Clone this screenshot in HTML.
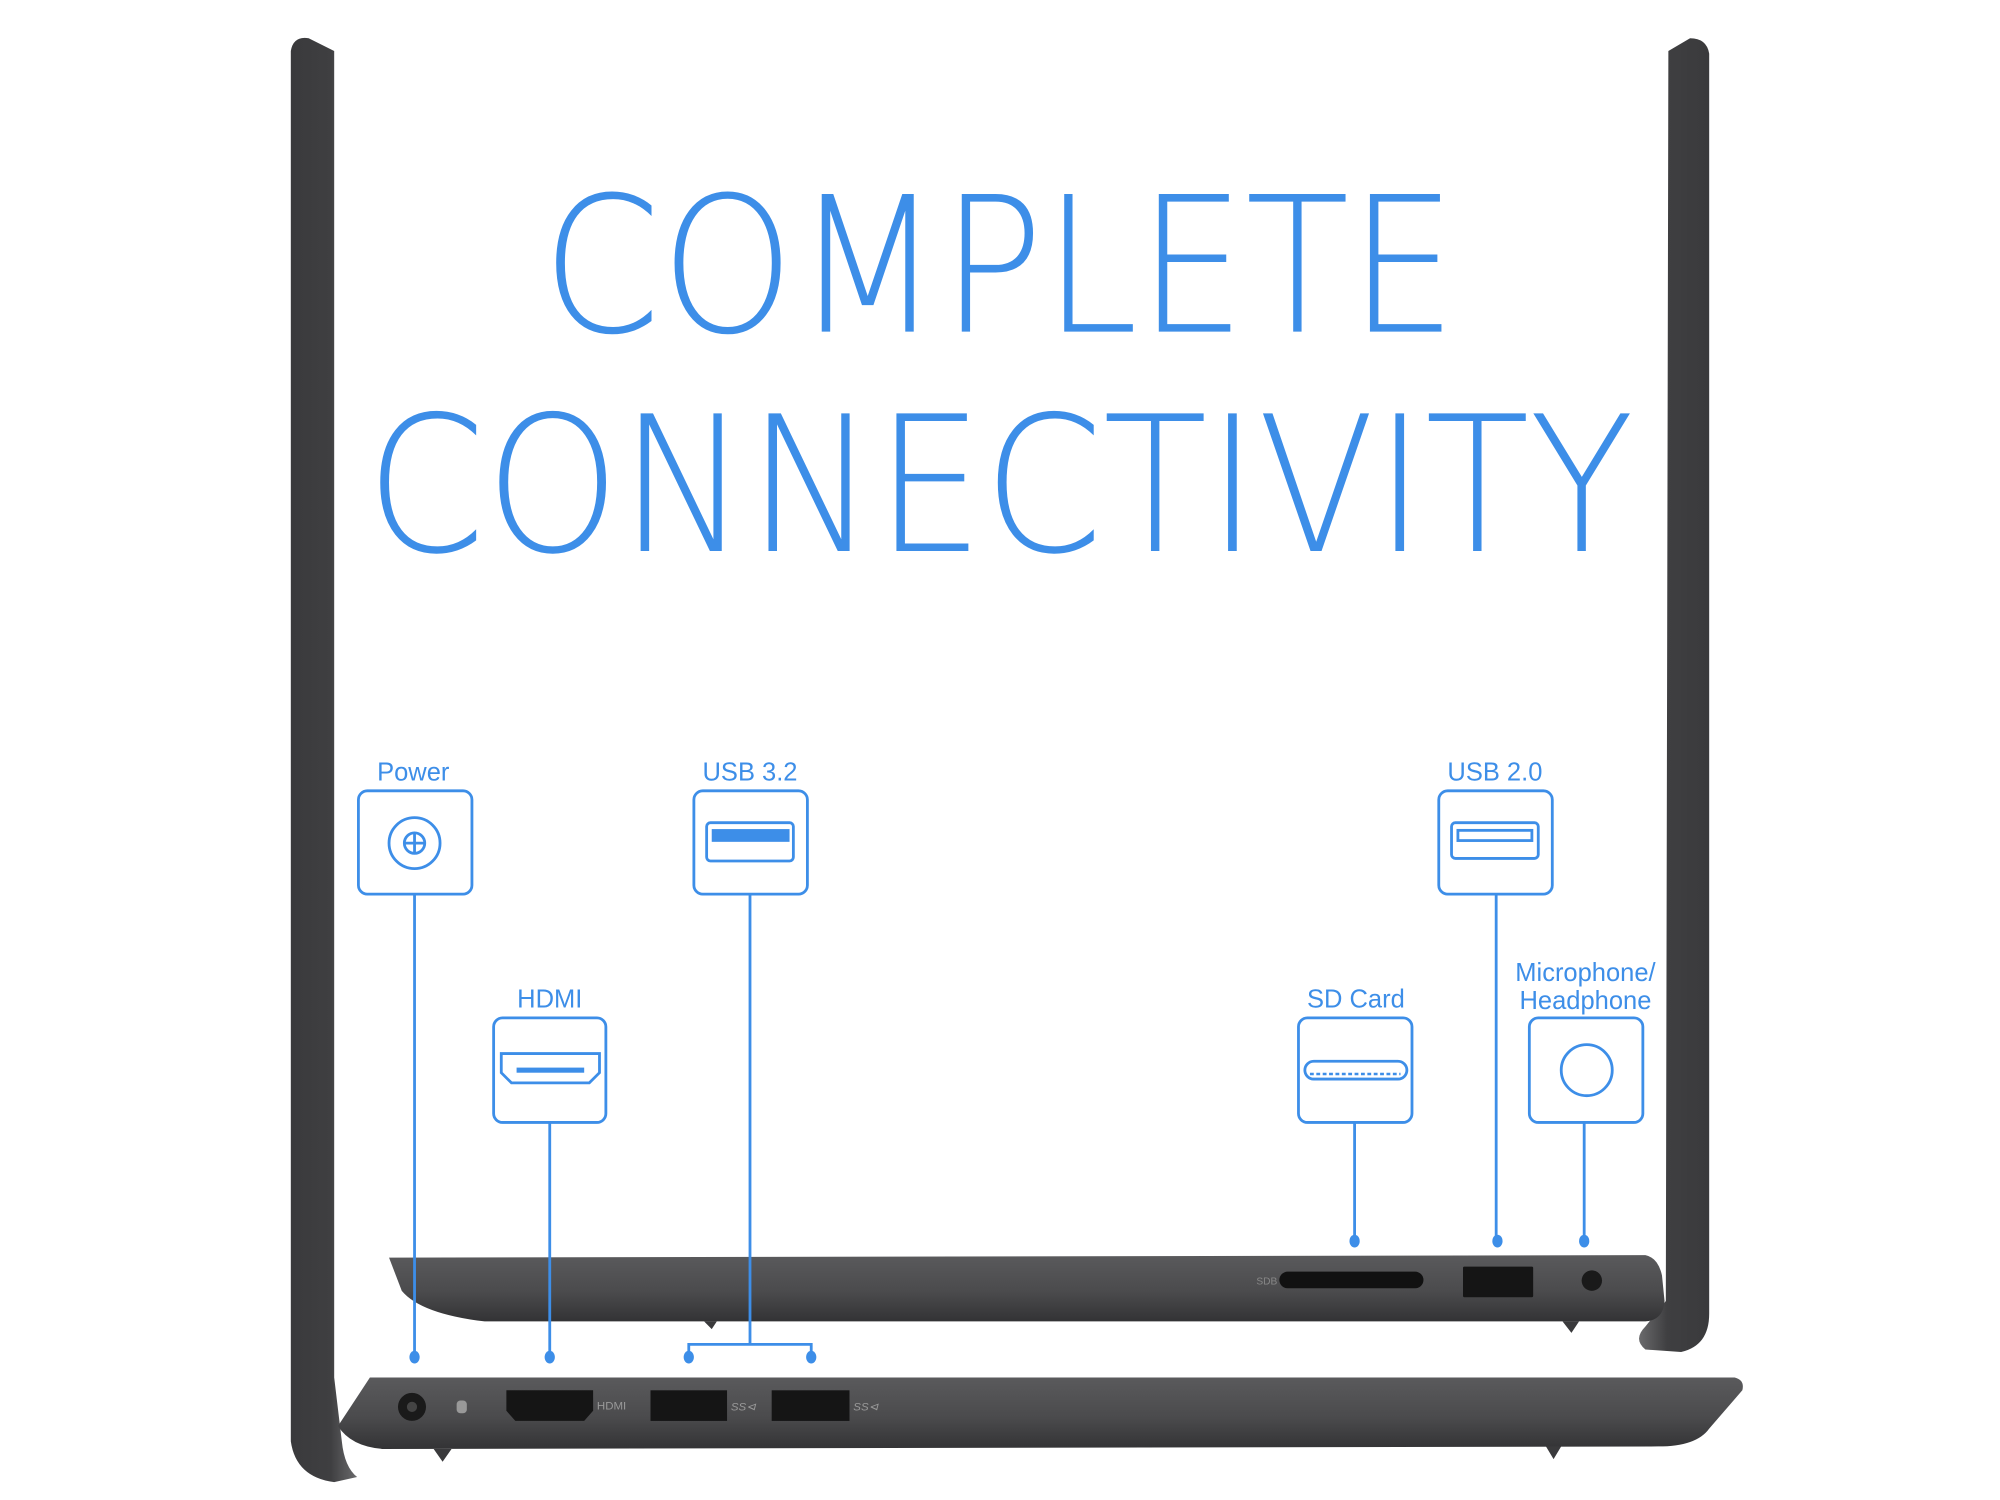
<!DOCTYPE html>
<html><head><meta charset="utf-8"><style>
html,body{margin:0;padding:0;background:#fff;}
svg{display:block;}
.lbl{font-family:"Liberation Sans",sans-serif;font-size:20px;fill:#3d8ee8;text-anchor:middle;}
.ttl{font-family:"DejaVu Sans","Liberation Sans",sans-serif;font-weight:200;font-size:148px;fill:#3d8ee8;}
</style></head><body>
<svg width="2000" height="1500" viewBox="0 0 1568 1176" preserveAspectRatio="none" xmlns="http://www.w3.org/2000/svg">
<defs>
<linearGradient id="base" x1="0" y1="0" x2="0" y2="1">
<stop offset="0" stop-color="#5a5a5c"/><stop offset="0.55" stop-color="#4b4b4d"/><stop offset="1" stop-color="#333335"/></linearGradient>
<linearGradient id="bez" x1="0" y1="0" x2="1" y2="0">
<stop offset="0" stop-color="#3a3a3c"/><stop offset="0.6" stop-color="#3f3f41"/><stop offset="1" stop-color="#6a6a6c"/></linearGradient>
<linearGradient id="bezr" x1="0" y1="0" x2="1" y2="0">
<stop offset="0" stop-color="#6a6a6c"/><stop offset="0.4" stop-color="#3f3f41"/><stop offset="1" stop-color="#3a3a3c"/></linearGradient>
</defs>
<path d="M228,40 Q230,28 242,30 L262,40 L262,1080 L268,1130 Q270,1150 280,1158 L262,1162 Q232,1158 228,1130 Z" fill="url(#bez)"/>
<path d="M1308,40 L1325,30 Q1338,30 1340,42 L1340,1030 Q1340,1055 1318,1060 L1290,1058 Q1280,1050 1290,1040 L1306,1020 Z" fill="url(#bezr)"/>
<text class="ttl" x="425" y="260" textLength="717" lengthAdjust="spacingAndGlyphs">COMPLETE</text>
<text class="ttl" x="287" y="432" textLength="994" lengthAdjust="spacingAndGlyphs">CONNECTIVITY</text>
<text class="lbl" x="324" y="612">Power</text>
<text class="lbl" x="588" y="612">USB 3.2</text>
<text class="lbl" x="1172" y="612">USB 2.0</text>
<text class="lbl" x="431" y="790">HDMI</text>
<text class="lbl" x="1063" y="790">SD Card</text>
<text class="lbl" x="1243" y="769">Microphone/</text>
<text class="lbl" x="1243" y="791">Headphone</text>
<!-- upper chassis -->
<path d="M305,986 L1290,984 Q1300,986 1303,1000 L1305,1020 Q1304,1035 1290,1036 L380,1036 Q330,1030 315,1012 Z" fill="url(#base)"/>
<path d="M1225,1036 L1232,1045 L1238,1036 Z M552,1036 L558,1042 L562,1036 Z" fill="#3a3a3c"/>
<rect x="1003" y="997" width="113" height="13" rx="6.5" fill="#111"/>
<rect x="1147" y="993" width="55" height="24" rx="1" fill="#151515"/>
<circle cx="1248" cy="1004" r="8" fill="#1a1a1a"/>
<text x="985" y="1007" font-family="Liberation Sans,sans-serif" font-size="8" fill="#888">SDB</text>
<!-- lower base -->
<path d="M290,1080 L1360,1080 Q1368,1082 1366,1090 L1340,1120 Q1330,1134 1300,1134 L300,1136 Q275,1134 265,1118 Z" fill="url(#base)"/>
<path d="M340,1136 L347,1146 L354,1136 Z M1212,1134 L1218,1144 L1224,1134 Z" fill="#3a3a3c"/>
<circle cx="323" cy="1103" r="11" fill="#1a1a1a"/><circle cx="323" cy="1103" r="4" fill="#444"/>
<rect x="358" y="1098" width="8" height="10" rx="3" fill="#999"/>
<path d="M397,1090 H465 V1106 L458,1114 H404 L397,1106 Z" fill="#151515"/>
<text x="468" y="1105" font-family="Liberation Sans,sans-serif" font-size="9" fill="#999">HDMI</text>
<rect x="510" y="1090" width="60" height="24" fill="#151515"/>
<rect x="605" y="1090" width="61" height="24" fill="#151515"/>
<text x="573" y="1106" font-family="Liberation Sans,sans-serif" font-style="italic" font-size="9" fill="#999">SS⊲</text>
<text x="669" y="1106" font-family="Liberation Sans,sans-serif" font-style="italic" font-size="9" fill="#999">SS⊲</text>
<g fill="none" stroke="#3d8ee8" stroke-width="2.2">
<rect x="281" y="620" width="89" height="81" rx="7"/>
<rect x="544" y="620" width="89" height="81" rx="7"/>
<rect x="1128" y="620" width="89" height="81" rx="7"/>
<rect x="387" y="798" width="88" height="82" rx="7"/>
<rect x="1018" y="798" width="89" height="82" rx="7"/>
<rect x="1199" y="798" width="89" height="82" rx="7"/>
<circle cx="325" cy="661" r="20"/>
<circle cx="325" cy="661" r="8"/>
<path d="M317,661 H333 M325,653 V669"/>
<rect x="554" y="645" width="68" height="30" rx="3"/>
<rect x="1138" y="645" width="68" height="28" rx="3"/>
<rect x="1143" y="651" width="58" height="8"/>
<path d="M393,826 H470 V841 L462,849 H401 L393,841 Z"/>
<rect x="1023" y="832" width="80" height="14" rx="7"/>
<circle cx="1244" cy="839" r="20"/>
<path d="M325,701 V1064 M431,880 V1064 M588,701 V1054 M540,1064 V1054 H636 V1064 M1062,880 V973 M1173,701 V973 M1242,880 V973"/>
</g>
<rect x="558" y="650" width="61" height="10" fill="#3d8ee8"/>
<rect x="405" y="837" width="53" height="4" fill="#3d8ee8"/>
<path d="M1027,842 H1098" stroke="#3d8ee8" stroke-width="2" stroke-dasharray="3,2"/>
<g fill="#3d8ee8">
<ellipse cx="325" cy="1064" rx="4" ry="5"/><ellipse cx="431" cy="1064" rx="4" ry="5"/>
<ellipse cx="540" cy="1064" rx="4" ry="5"/><ellipse cx="636" cy="1064" rx="4" ry="5"/>
<ellipse cx="1062" cy="973" rx="4" ry="5"/><ellipse cx="1174" cy="973" rx="4" ry="5"/><ellipse cx="1242" cy="973" rx="4" ry="5"/>
</g>
</svg>
</body></html>
